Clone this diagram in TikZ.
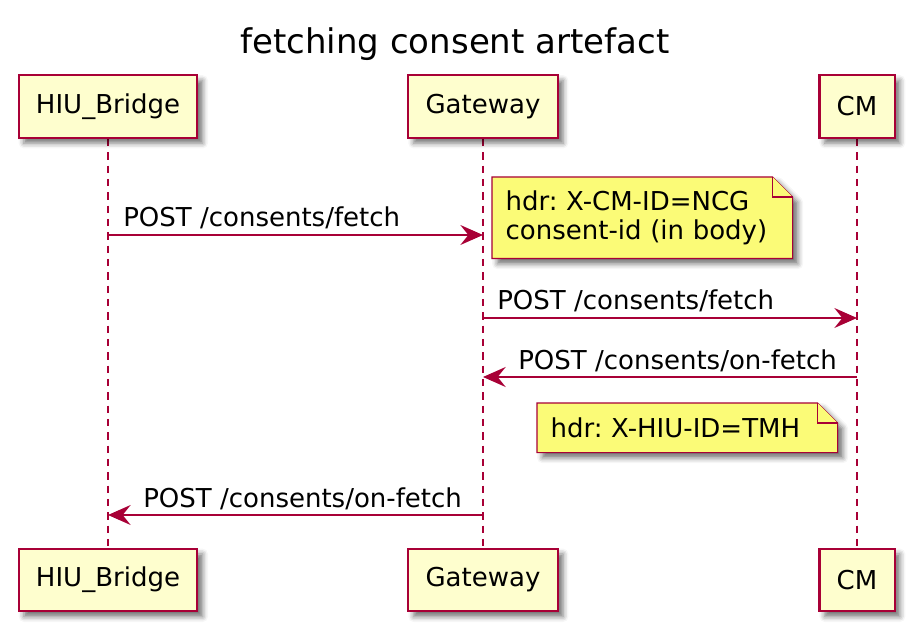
\documentclass[tikz,border=0pt]{standalone}
\usepackage{fontspec}
\setmainfont{DejaVu Sans}
\usetikzlibrary{arrows.meta}
\usetikzlibrary{backgrounds}
\usetikzlibrary{shadows.blur}

\definecolor{umlborder}{HTML}{A80036}
\definecolor{umlpart}{HTML}{FEFECE}
\definecolor{umlnote}{HTML}{FBFB77}

\begin{document}
\frenchspacing
\begin{tikzpicture}[x=0.75pt, y=-0.75pt,
            umlshadow/.style={blur shadow={shadow xshift=4pt, shadow yshift=-4pt, shadow blur radius=4pt, shadow opacity=55}},
            participant/.style={draw=umlborder, fill=umlpart, line width=1.7pt, minimum height=47pt, inner xsep=13pt, font=\fontsize{19.5}{22}\selectfont, umlshadow},
            lifeline/.style={color=umlborder, line width=0.9pt, dash pattern=on 5.5pt off 4.5pt},
            message/.style={color=umlborder, line width=1pt, -{Stealth[length=17pt, width=15pt, inset=6pt]}},
            msglabel/.style={anchor=base west, inner sep=0pt, font=\fontsize{19.5}{22}\selectfont},
            notetext/.style={anchor=north west, align=left, inner xsep=10pt, inner ysep=0pt, text width=205pt, font=\fontsize{19.5}{22}\selectfont},
            notepaper/.style={draw=umlborder, fill=umlnote, line width=0.8pt, line join=miter}
        ]
            \useasboundingbox (0,0) rectangle (909,630);

            % title
            \node[font=\fontsize{25.5}{30}\selectfont] (title) at (455,44) {fetching consent artefact};

            % participants (top)
            \node[participant] (hiutop) at (108,106.5) {HIU\_Bridge};
            \node[participant] (gwtop) at (483,106.5) {Gateway};
            \node[participant] (cmtop) at (857,106.5) {CM};

            % participants (bottom)
            \node[participant] (hiubot) at (108,580) {HIU\_Bridge};
            \node[participant] (gwbot) at (483,580) {Gateway};
            \node[participant] (cmbot) at (857,580) {CM};

            % message ends
            \coordinate (m1s) at (hiutop |- 0,235);
            \coordinate (m1e) at (gwtop |- 0,235);
            \coordinate (m2s) at (gwtop |- 0,318);
            \coordinate (m2e) at (cmtop |- 0,318);
            \coordinate (m3s) at (cmtop |- 0,377);
            \coordinate (m3e) at (gwtop |- 0,377);
            \coordinate (m4s) at (gwtop |- 0,515);
            \coordinate (m4e) at (hiutop |- 0,515);

            % messages
            \draw[message] (m1s) -- (m1e);
            \node[msglabel] (l1) at (123,227) {POST /consents/fetch};
            \draw[message] (m2s) -- (m2e);
            \node[msglabel] (l2) at (497,310) {POST /consents/fetch};
            \draw[message] (m3s) -- (m3e);
            \node[msglabel] (l3) at (518,369) {POST /consents/on-fetch};
            \draw[message] (m4s) -- (m4e);
            \node[msglabel] (l4) at (143,507) {POST /consents/on-fetch};

            % notes
            \node[notetext, minimum height=60.75pt] (note1) at (492,177) {hdr: X-CM-ID=NCG\\consent-id (in body)};
            \node[notetext, minimum height=36.75pt] (note2) at (537,403) {hdr: X-HIU-ID=TMH};

            \begin{scope}[on background layer]
                % lifelines
                \draw[lifeline] (hiutop) -- (hiubot);
                \draw[lifeline] (gwtop) -- (gwbot);
                \draw[lifeline] (cmtop) -- (cmbot);

                % note paper
                \path[notepaper, umlshadow] (note1.south west) -- (note1.north west) -- ([xshift=-15pt]note1.north east) -- ([yshift=-15pt]note1.north east) -- (note1.south east) -- cycle;
                \draw[notepaper] ([xshift=-15pt]note1.north east) |- ([yshift=-15pt]note1.north east);
                \path[notepaper, umlshadow] (note2.south west) -- (note2.north west) -- ([xshift=-15pt]note2.north east) -- ([yshift=-15pt]note2.north east) -- (note2.south east) -- cycle;
                \draw[notepaper] ([xshift=-15pt]note2.north east) |- ([yshift=-15pt]note2.north east);
            \end{scope}

        \end{tikzpicture}
\end{document}
